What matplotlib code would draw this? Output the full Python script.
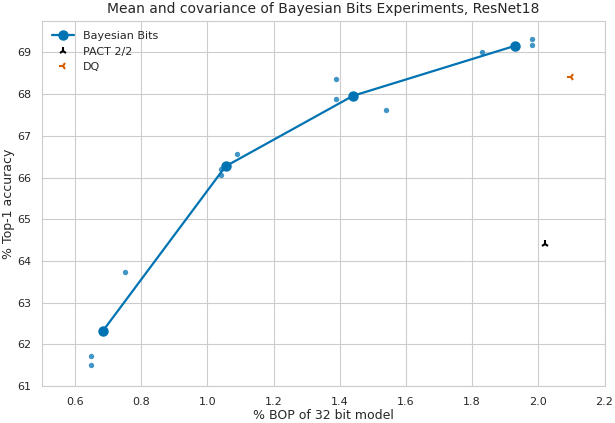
import numpy as np
import matplotlib
matplotlib.use("Agg")
import matplotlib.pyplot as plt
import seaborn as sns

# mean of each experiment group
mean_bop = [0.685, 1.055, 1.44, 1.93]
mean_acc = [62.33, 66.27, 67.96, 69.16]

# individual runs
run_bop = [0.65, 0.65, 0.75, 1.04, 1.04, 1.09, 1.39, 1.39, 1.54, 1.83, 1.98, 1.98]
run_acc = [61.73, 61.52, 63.73, 66.20, 66.06, 66.56, 68.37, 67.88, 67.63, 69.00, 69.33, 69.17]

# baselines
pact_bop, pact_acc = [2.02], [64.41]
dq_bop, dq_acc = [2.10], [68.40]

sns.set_style("whitegrid")
plt.rcParams['font.family'] = ['DejaVu Sans']
pal = sns.color_palette("colorblind")

fig, ax = plt.subplots(figsize=(6.15, 4.23), dpi=100)
ax.plot(mean_bop, mean_acc, '-o', color=pal[0], markersize=6.5, linewidth=1.6,
        label='Bayesian Bits')
ax.scatter(run_bop, run_acc, s=15, color=pal[0], alpha=0.75, linewidths=0)
ax.plot(pact_bop, pact_acc, '2', color='black', markersize=6, mew=1.5,
        linestyle='none', label='PACT 2/2')
ax.plot(dq_bop, dq_acc, '3', color=pal[3], markersize=6, mew=1.5,
        linestyle='none', label='DQ')

ax.set_xlim(0.5, 2.2)
ax.set_ylim(61, 69.75)
ax.set_xticks(np.arange(0.6, 2.21, 0.2))
ax.set_yticks(range(61, 70))
ax.tick_params(labelsize=8, pad=4)
ax.set_xlabel('% BOP of 32 bit model', fontsize=9, labelpad=2)
ax.set_ylabel('% Top-1 accuracy', fontsize=9, labelpad=2)
ax.set_title('Mean and covariance of Bayesian Bits Experiments, ResNet18', fontsize=10)
ax.legend(loc='upper left', fontsize=8, frameon=False)

plt.subplots_adjust(left=0.068, right=0.983, bottom=0.087, top=0.95)
plt.savefig('out.png', dpi=100)
